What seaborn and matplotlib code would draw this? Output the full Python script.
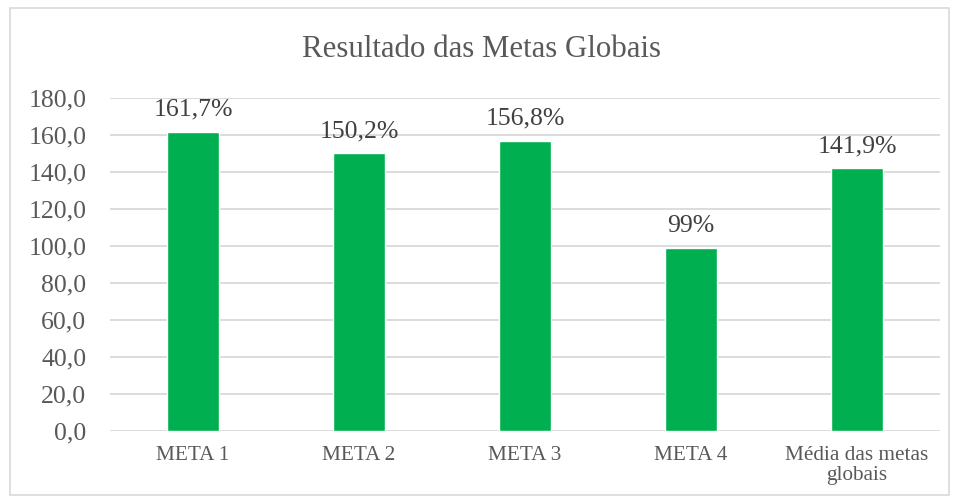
import matplotlib
matplotlib.use("Agg")
import matplotlib.pyplot as plt
import seaborn as sns
import pandas as pd
from matplotlib.patches import Rectangle

categories = ["META 1", "META 2", "META 3", "META 4", "Média das metas\nglobais"]
values = [161.7, 150.2, 156.8, 99.0, 141.9]
value_labels = ["161,7%", "150,2%", "156,8%", "99%", "141,9%"]
yticks = [0, 20, 40, 60, 80, 100, 120, 140, 160, 180]

sns.set_theme(style="white")
plt.rcParams['font.family'] = ['Liberation Serif', 'DejaVu Serif']

df = pd.DataFrame({"cat": categories, "val": values})

fig = plt.figure(figsize=(9.58, 5.03), dpi=100)
fig.patch.set_facecolor("white")
ax = fig.add_axes([110/958, 1 - 431/503, 830/958, 333/503])

sns.barplot(data=df, x="cat", y="val", color="#00B050", saturation=1,
            width=0.31, ax=ax, zorder=3)

ax.set_ylim(0, 180)
ax.set_yticks(yticks)
ax.set_yticklabels([f"{t:.1f}".replace(".", ",") for t in yticks])
ax.yaxis.grid(True, color="#D9D9D9", linewidth=1.3, zorder=0)
ax.set_axisbelow(True)
for s in ax.spines.values():
    s.set_visible(False)
ax.set_xlabel("")
ax.set_ylabel("")
ax.tick_params(axis="y", length=0, pad=17, labelsize=18.5, labelcolor="#595959")
ax.tick_params(axis="x", length=0, pad=11, labelsize=15.3, labelcolor="#595959")
for t in ax.get_xticklabels():
    t.set_linespacing(1.05)

for i, (v, lab) in enumerate(zip(values, value_labels)):
    ax.annotate(lab, xy=(i, v), xytext=(0, 8), textcoords="offset points",
                ha="center", va="bottom", fontsize=18.5, color="#404040")

fig.text(482/958, 1 - 57/503, "Resultado das Metas Globais", ha="center", va="baseline",
         fontsize=22.2, color="#595959")

fig.patches.append(Rectangle((9.5/958, 1 - 495/503), 939/958, 487/503,
                             transform=fig.transFigure, fill=False,
                             edgecolor="#D9D9D9", linewidth=1.2))

fig.savefig("out.png", dpi=100)
